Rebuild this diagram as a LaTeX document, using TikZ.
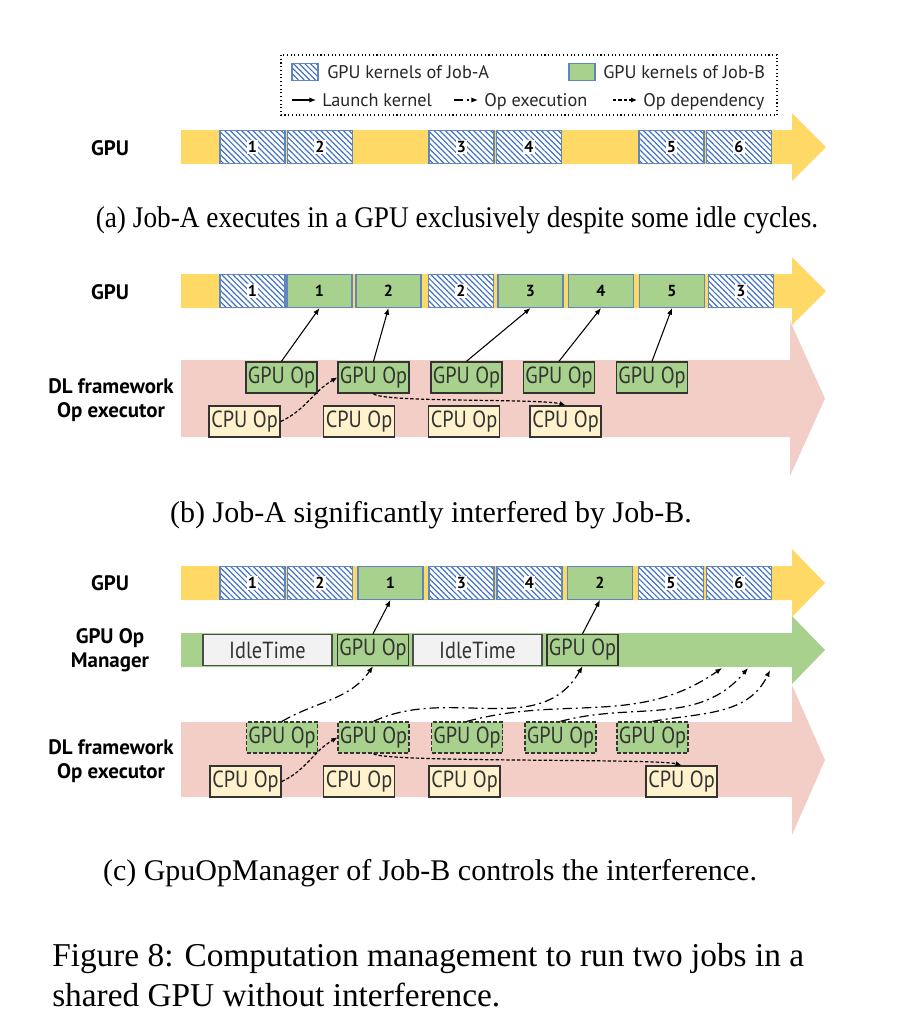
\documentclass[tikz,border=0pt]{standalone}
\usepackage{fontspec}
\setmainfont{Liberation Serif}
\setsansfont{PT Sans}
\newfontfamily\opfont[FakeStretch=0.87]{PT Sans}
\usetikzlibrary{positioning,arrows.meta,patterns.meta}

\definecolor{GpuYellow}{RGB}{255,217,102}
\definecolor{ExecPink}{RGB}{242,206,198}
\definecolor{OpGreen}{RGB}{169,209,142}
\definecolor{CpuYellow}{RGB}{255,242,204}
\definecolor{IdleGray}{RGB}{242,242,242}
\definecolor{HatchBlue}{RGB}{68,114,196}
\definecolor{KernelBorder}{RGB}{96,134,190}

\begin{document}
\begin{tikzpicture}[x=0.75pt,y=-0.75pt]
  \tikzset{HatchBase/.style = {
    shape         = rectangle,
    draw          = KernelBorder,
    line width    = 0.8pt,
    preaction     = {fill=white},
    pattern       = {Lines[angle=-45,distance=3pt,line width=0.9pt]},
    pattern color = HatchBlue,
    inner sep     = 0pt,
    minimum width = 48.75pt,
    minimum height= 24.75pt
    }
  }
  \tikzset{NumLabelStyle/.style = {
    fill          = white,
    inner sep     = 0.8pt,
    text          = black,
    font          = \sffamily\bfseries\fontsize{12}{12}\selectfont
    }
  }
  \tikzset{KernelAStyle/.style = {
    HatchBase,
    label         = {[NumLabelStyle]center:#1}
    }
  }
  \tikzset{KernelBStyle/.style = {
    shape         = rectangle,
    draw          = KernelBorder,
    fill          = OpGreen,
    line width    = 0.8pt,
    inner sep     = 0pt,
    minimum width = 48.75pt,
    minimum height= 24.75pt,
    text          = black,
    font          = \sffamily\bfseries\fontsize{12}{12}\selectfont
    }
  }
  \tikzset{OpBoxStyle/.style = {
    shape         = rectangle,
    draw          = black!80,
    line width    = 1.1pt,
    inner sep     = 0pt,
    minimum width = 53.25pt,
    minimum height= 23.25pt,
    text          = black!80,
    font          = \opfont\fontsize{17.5}{18}\selectfont
    }
  }
  \tikzset{GpuOpStyle/.style  = {OpBoxStyle, fill=OpGreen}}
  \tikzset{PendOpStyle/.style = {OpBoxStyle, fill=OpGreen, line width=1pt,
    dash pattern=on 3pt off 1.5pt}}
  \tikzset{CpuOpStyle/.style  = {OpBoxStyle, fill=CpuYellow}}
  \tikzset{IdleStyle/.style   = {OpBoxStyle, fill=IdleGray, draw=black!70,
    line width=0.8pt, minimum width=96.75pt}}
  \tikzset{RowLabelStyle/.style = {
    align         = center,
    font          = \sffamily\bfseries\fontsize{15.7}{18}\selectfont
    }
  }
  \tikzset{LegendTextStyle/.style = {
    anchor        = base west,
    inner sep     = 0pt,
    text          = black!85,
    font          = \sffamily\fontsize{13.7}{14}\selectfont
    }
  }
  \tikzset{CaptionStyle/.style = {font=\fontsize{22.5}{26}\selectfont}}
  \tikzset{LaunchStyle/.style = {-{Latex[length=5pt,width=4pt]}, line width=0.8pt}}
  \tikzset{ExecStyle/.style   = {-{Latex[length=5pt,width=4pt]}, line width=0.9pt,
    dash pattern=on 7pt off 3pt on 1.5pt off 3pt}}
  \tikzset{DepStyle/.style    = {-{Latex[length=4.5pt,width=4pt]}, line width=0.9pt,
    dash pattern=on 2.5pt off 1.5pt}}

  \useasboundingbox (0,0) rectangle (901,1026);

  % legend
  \draw[dotted, line width=0.8pt] (281,55) rectangle (777,115);
  \node[HatchBase, minimum width=19.5pt, minimum height=12.75pt] (swA) at (305,72) {};
  \node[KernelBStyle, minimum width=19.5pt, minimum height=12.75pt] (swB) at (582,72) {};
  \node[LegendTextStyle] (tA) at (327,78) {GPU kernels of Job-A};
  \node[LegendTextStyle] (tB) at (603,78) {GPU kernels of Job-B};
  \coordinate (l1s) at (292,100); \coordinate (l1e) at (316,100);
  \coordinate (l2s) at (454,100); \coordinate (l2e) at (478,100);
  \coordinate (l3s) at (613,100); \coordinate (l3e) at (637,100);
  \draw[LaunchStyle] (l1s) -- (l1e);
  \draw[ExecStyle] (l2s) -- (l2e);
  \draw[DepStyle] (l3s) -- (l3e);
  \node[LegendTextStyle] (tL) at (322,106) {Launch kernel};
  \node[LegendTextStyle] (tE) at (484,106) {Op execution};
  \node[LegendTextStyle] (tD) at (643,106) {Op dependency};

  % bands
  \fill[ExecPink] (181,360) -- (790,360) -- (790,321) -- (825,398.5) -- (790,476) -- (790,437) -- (181,437) -- cycle;
  \fill[ExecPink] (181,722) -- (792,722) -- (792,685) -- (825,760) -- (792,835) -- (792,797) -- (181,797) -- cycle;
  \fill[GpuYellow] (181,130) -- (792,130) -- (792,113) -- (826,147) -- (792,181) -- (792,164) -- (181,164) -- cycle;
  \fill[GpuYellow] (181,274) -- (792,274) -- (792,257) -- (826,291) -- (792,325) -- (792,308) -- (181,308) -- cycle;
  \fill[GpuYellow] (181,566) -- (792,566) -- (792,549) -- (825,583) -- (792,617) -- (792,600) -- (181,600) -- cycle;
  \fill[OpGreen] (181,633) -- (792,633) -- (792,616) -- (825,650) -- (792,684) -- (792,667) -- (181,667) -- cycle;

  % (a)
  \node[RowLabelStyle] (la) at (110,148) {GPU};
  \node[KernelAStyle=1](ka1) at (252.5,147) {};
  \node[KernelAStyle=2](ka2) at (320,147) {};
  \node[KernelAStyle=3](ka3) at (461.5,147) {};
  \node[KernelAStyle=4](ka4) at (529,147) {};
  \node[KernelAStyle=5](ka5) at (671.5,147) {};
  \node[KernelAStyle=6](ka6) at (739,147) {};
  \node[CaptionStyle] (capa) at (457,220)
    {\scalebox{0.91}[1]{(a) Job-A executes in a GPU exclusively despite some idle cycles.}};

  % (b)
  \node[RowLabelStyle] (lb1) at (110,292) {GPU};
  \node[RowLabelStyle] (lb2) at (111,400) {DL framework\\Op executor};
  \node[KernelAStyle=1](hb1) at (252.5,291) {};
  \node[KernelBStyle](gb1) at (319.5,291) {1};
  \node[KernelBStyle](gb2) at (388.5,291) {2};
  \node[KernelAStyle=2](hb2) at (461,291) {};
  \node[KernelBStyle](gb3) at (530.5,291) {3};
  \node[KernelBStyle](gb4) at (601,291) {4};
  \node[KernelBStyle](gb5) at (672,291) {5};
  \node[KernelAStyle=3](hb3) at (741,291) {};
  \node[GpuOpStyle](ob1) at (281.5,377.5) {GPU Op};
  \node[GpuOpStyle](ob2) at (373.5,377.5) {GPU Op};
  \node[GpuOpStyle](ob3) at (466.5,377.5) {GPU Op};
  \node[GpuOpStyle](ob4) at (559,377.5) {GPU Op};
  \node[GpuOpStyle](ob5) at (652,377.5) {GPU Op};
  \node[CpuOpStyle](cb1) at (244.5,421.5) {CPU Op};
  \node[CpuOpStyle](cb2) at (359,421.5) {CPU Op};
  \node[CpuOpStyle](cb3) at (464,421.5) {CPU Op};
  \node[CpuOpStyle](cb4) at (565.5,421.5) {CPU Op};
  \draw[LaunchStyle](ob1.north) -- (gb1.south);
  \draw[LaunchStyle](ob2.north) -- (gb2.south);
  \draw[LaunchStyle](ob3.north) -- (gb3.south);
  \draw[LaunchStyle](ob4.north) -- (gb4.south);
  \draw[LaunchStyle](ob5.north) -- (gb5.south);
  \draw[DepStyle](cb1.east) to[out=25,in=210] (ob2.west);
  \draw[DepStyle](ob2.south) .. controls +(8,9) and +(-25,-7) .. (cb4.north);
  \node[CaptionStyle] (capb) at (431,515) {(b) Job-A significantly interfered by Job-B.};

  % (c)
  \node[RowLabelStyle] (lc1) at (110,583) {GPU};
  \node[RowLabelStyle] (lc2) at (110,650) {GPU Op\\Manager};
  \node[RowLabelStyle] (lc3) at (111,761) {DL framework\\Op executor};
  \node[KernelAStyle=1](hc1) at (252.5,583) {};
  \node[KernelAStyle=2](hc2) at (320,583) {};
  \node[KernelBStyle](gc1) at (390.5,583) {1};
  \node[KernelAStyle=3](hc3) at (461.5,583) {};
  \node[KernelAStyle=4](hc4) at (529.5,583) {};
  \node[KernelBStyle](gc2) at (600,583) {2};
  \node[KernelAStyle=5](hc5) at (671,583) {};
  \node[KernelAStyle=6](hc6) at (739,583) {};
  \node[IdleStyle](idle1) at (267.5,650) {IdleTime};
  \node[GpuOpStyle](om1) at (373,650) {GPU Op};
  \node[IdleStyle](idle2) at (477.5,650) {IdleTime};
  \node[GpuOpStyle](om2) at (582.5,650) {GPU Op};
  \node[PendOpStyle](oc1) at (282,737.5) {GPU Op};
  \node[PendOpStyle](oc2) at (373.5,737.5) {GPU Op};
  \node[PendOpStyle](oc3) at (467,737.5) {GPU Op};
  \node[PendOpStyle](oc4) at (560.5,737.5) {GPU Op};
  \node[PendOpStyle](oc5) at (652.5,737.5) {GPU Op};
  \node[CpuOpStyle](cc1) at (245.5,781.5) {CPU Op};
  \node[CpuOpStyle](cc2) at (359,781.5) {CPU Op};
  \node[CpuOpStyle](cc3) at (464.5,781.5) {CPU Op};
  \node[CpuOpStyle](cc4) at (681.5,781.5) {CPU Op};
  \coordinate (q3) at (722,668);
  \coordinate (q4) at (748,668);
  \coordinate (q5) at (770,670);
  \draw[LaunchStyle](om1.north) -- (gc1.south);
  \draw[LaunchStyle](om2.north) -- (gc2.south);
  \draw[ExecStyle](oc1.north) to[out=30,in=235] (om1.south);
  \draw[ExecStyle](oc2.north) to[out=25,in=240] (om2.south);
  \draw[ExecStyle](oc3.north) to[out=15,in=215] (q3);
  \draw[ExecStyle](oc4.north) to[out=15,in=230] (q4);
  \draw[ExecStyle](oc5.north) to[out=10,in=245] (q5);
  \draw[DepStyle](cc1.east) to[out=25,in=210] (oc2.west);
  \draw[DepStyle](oc2.south) .. controls +(8,9) and +(-25,-7) .. (cc4.north);
  \node[CaptionStyle] (capc) at (430,873) {(c) GpuOpManager of Job-B controls the interference.};

  % figure caption
  \node[anchor=west, align=left, inner sep=0pt, font=\fontsize{25}{29.5}\selectfont] (fig) at (52,975)
    {Figure 8: Computation management to run two jobs in a\\shared GPU without interference.};
\end{tikzpicture}
\end{document}
